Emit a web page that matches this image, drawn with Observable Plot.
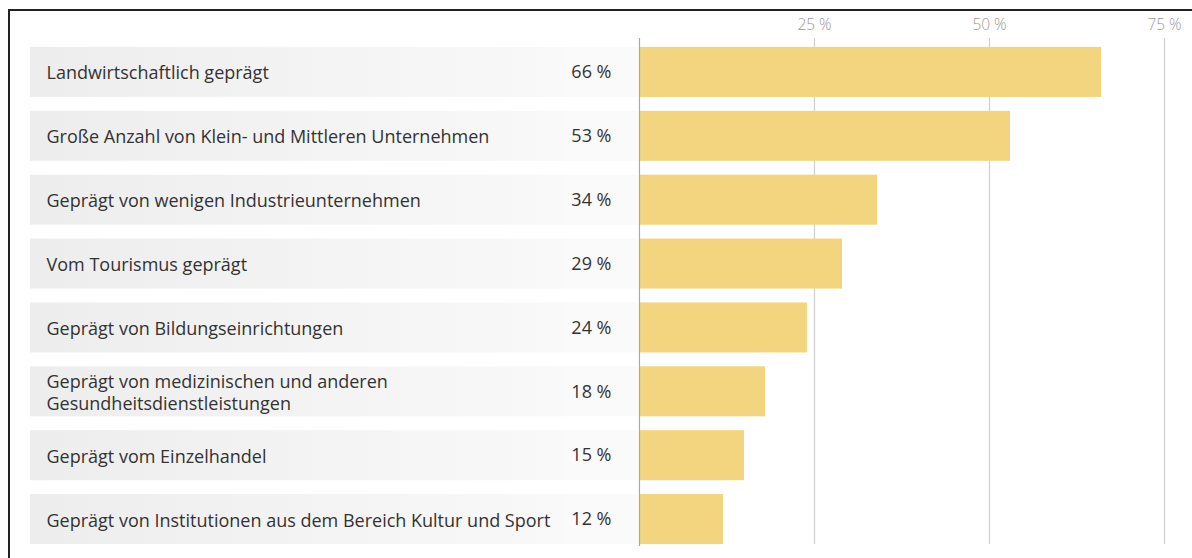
<!DOCTYPE html>
<html>
<head>
<meta charset="utf-8">
<script src="https://cdn.jsdelivr.net/npm/d3@7"></script>
<script src="https://cdn.jsdelivr.net/npm/@observablehq/plot@0.6"></script>
<style>
  html, body { margin: 0; padding: 0; background: #fff; overflow: hidden; }
  #wrap { position: relative; width: 1192px; height: 558px; }
  #chart { position: absolute; left: 0; top: 0; }
  #border { position: absolute; left: 8px; top: 9px; width: 2000px; height: 2000px;
            border-top: 2px solid #222; border-left: 2px solid #222; pointer-events: none; }
</style>
</head>
<body>
<div id="wrap"><div id="chart"></div><div id="border"></div></div>
<script>
const categories = [
  "Landwirtschaftlich geprägt",
  "Große Anzahl von Klein- und Mittleren Unternehmen",
  "Geprägt von wenigen Industrieunternehmen",
  "Vom Tourismus geprägt",
  "Geprägt von Bildungseinrichtungen",
  "Geprägt von medizinischen und anderen\nGesundheitsdienstleistungen",
  "Geprägt vom Einzelhandel",
  "Geprägt von Institutionen aus dem Bereich Kultur und Sport"
];
const values = [66, 53, 34, 29, 24, 18, 15, 12];
const tickValues = [25, 50, 75];

const rows = categories.map((c, i) => ({label: c, value: values[i]}));

const chart = Plot.plot({
  width: 1192,
  height: 558,
  marginLeft: 639,
  marginRight: 28,
  marginTop: 40,
  marginBottom: 7,
  style: {fontFamily: "'Open Sans', sans-serif", background: "transparent"},
  x: {domain: [0, 75], axis: null, label: null},
  y: {domain: categories, axis: null, paddingInner: 0.217, paddingOuter: 0.1085, round: false},
  marks: [
    // label background (gradient)
    Plot.barX(rows, {y: "label", x1: 0, x2: 0, insetLeft: -609, insetRight: 73, fill: "url(#labelGrad)"}),
    // value background
    Plot.barX(rows, {y: "label", x1: 0, x2: 0, insetLeft: -73, insetRight: 1, fill: "#fafafa"}),
    // grid
    Plot.ruleX(tickValues, {stroke: "#cfcfcf", strokeWidth: 1.2, insetTop: -2, insetBottom: 7}),
    // bars
    Plot.barX(rows, {y: "label", x: "value", fill: "#f2d57e"}),
    // zero line
    Plot.ruleX([0], {stroke: "#a8a8a8", strokeWidth: 1.2, insetTop: -2, insetBottom: 5}),
    // category labels
    Plot.text(rows, {y: "label", text: "label", frameAnchor: "left", dx: -593, textAnchor: "start",
                     fontSize: 18, fill: "#333", lineHeight: 1.22}),
    // value labels
    Plot.text(rows, {y: "label", text: d => `${d.value} %`, frameAnchor: "left", dx: -28, textAnchor: "end",
                     fontSize: 18, fill: "#333"}),
    // top axis
    Plot.axisX(tickValues, {anchor: "top", label: null, tickSize: 0, tickPadding: 11, tickFormat: d => `${d} %`,
                            fill: "#999", fontSize: 15.5, fontWeight: 300})
  ]
});

const defs = d3.select(chart).insert("defs", ":first-child");
const g = defs.append("linearGradient").attr("id", "labelGrad").attr("x1", "0").attr("x2", "1").attr("y1", "0").attr("y2", "0");
g.append("stop").attr("offset", "0%").attr("stop-color", "#ededed");
g.append("stop").attr("offset", "100%").attr("stop-color", "#f9f9f9");

document.getElementById("chart").appendChild(chart);
</script>
</body>
</html>
